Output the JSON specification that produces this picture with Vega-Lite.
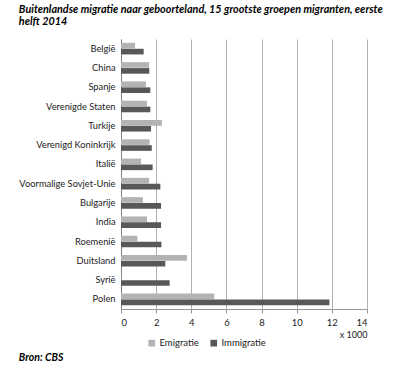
{
  "$schema": "https://vega.github.io/schema/vega-lite/v6.json",
  "padding": {"left": 18, "top": 4, "right": 5, "bottom": 5},
  "background": "white",
  "title": {
    "text": ["Buitenlandse migratie naar geboorteland, 15 grootste groepen migranten, eerste", "helft 2014"],
    "anchor": "start",
    "font": "Lato",
    "fontSize": 10.8,
    "fontStyle": "italic",
    "fontWeight": "bold",
    "lineHeight": 12,
    "color": "#000000",
    "offset": 12
  },
  "data": {
    "values": [
      {"land": "België", "type": "Emigratie", "waarde": 0.80},
      {"land": "België", "type": "Immigratie", "waarde": 1.29},
      {"land": "China", "type": "Emigratie", "waarde": 1.60},
      {"land": "China", "type": "Immigratie", "waarde": 1.61},
      {"land": "Spanje", "type": "Emigratie", "waarde": 1.42},
      {"land": "Spanje", "type": "Immigratie", "waarde": 1.67},
      {"land": "Verenigde Staten", "type": "Emigratie", "waarde": 1.48},
      {"land": "Verenigde Staten", "type": "Immigratie", "waarde": 1.67},
      {"land": "Turkije", "type": "Emigratie", "waarde": 2.33},
      {"land": "Turkije", "type": "Immigratie", "waarde": 1.71},
      {"land": "Verenigd Koninkrijk", "type": "Emigratie", "waarde": 1.63},
      {"land": "Verenigd Koninkrijk", "type": "Immigratie", "waarde": 1.75},
      {"land": "Italië", "type": "Emigratie", "waarde": 1.14},
      {"land": "Italië", "type": "Immigratie", "waarde": 1.80},
      {"land": "Voormalige Sovjet-Unie", "type": "Emigratie", "waarde": 1.60},
      {"land": "Voormalige Sovjet-Unie", "type": "Immigratie", "waarde": 2.24},
      {"land": "Bulgarije", "type": "Emigratie", "waarde": 1.25},
      {"land": "Bulgarije", "type": "Immigratie", "waarde": 2.28},
      {"land": "India", "type": "Emigratie", "waarde": 1.48},
      {"land": "India", "type": "Immigratie", "waarde": 2.28},
      {"land": "Roemenië", "type": "Emigratie", "waarde": 0.93},
      {"land": "Roemenië", "type": "Immigratie", "waarde": 2.30},
      {"land": "Duitsland", "type": "Emigratie", "waarde": 3.76},
      {"land": "Duitsland", "type": "Immigratie", "waarde": 2.52},
      {"land": "Syrië", "type": "Emigratie", "waarde": 0.02},
      {"land": "Syrië", "type": "Immigratie", "waarde": 2.77},
      {"land": "Polen", "type": "Emigratie", "waarde": 5.31},
      {"land": "Polen", "type": "Immigratie", "waarde": 11.86}
    ]
  },
  "vconcat": [
    {
      "width": 246,
      "height": 270,
      "title": {
        "text": "Bron: CBS",
        "orient": "bottom",
        "anchor": "start",
        "font": "Lato",
        "fontSize": 10.5,
        "fontStyle": "italic",
        "fontWeight": "bold",
        "color": "#000000",
        "offset": 13
      },
      "mark": {"type": "bar"},
      "encoding": {
        "y": {
          "field": "land",
          "type": "nominal",
          "sort": null,
          "scale": {"paddingInner": 0.4, "paddingOuter": 0.2},
          "axis": {
            "title": null,
            "ticks": false,
            "labelPadding": 6,
            "labelFont": "Lato",
            "labelFontSize": 9.3,
            "labelColor": "#222222",
            "domainColor": "#808080",
            "grid": false
          }
        },
        "yOffset": {
          "field": "type",
          "type": "nominal",
          "sort": ["Emigratie", "Immigratie"],
          "scale": {"paddingInner": 0.05}
        },
        "x": {
          "field": "waarde",
          "type": "quantitative",
          "scale": {"domain": [0, 14], "nice": false},
          "axis": {
            "values": [0, 2, 4, 6, 8, 10, 12, 14],
            "title": "x 1000",
            "titleAnchor": "end",
            "titleAlign": "right",
            "titleFont": "Lato",
            "titleFontSize": 9,
            "titleFontWeight": "normal",
            "titleColor": "#222222",
            "titlePadding": 4,
            "labelFont": "Lato",
            "labelFontSize": 9.5,
            "labelColor": "#222222",
            "labelPadding": 4,
            "tickSize": 4,
            "tickColor": "#999999",
            "domainColor": "#999999",
            "grid": true,
            "gridColor": "#b0b0b0"
          }
        },
        "color": {
          "field": "type",
          "type": "nominal",
          "scale": {"domain": ["Emigratie", "Immigratie"], "range": ["#b3b3b3", "#585858"]},
          "legend": {
            "title": null,
            "orient": "none",
            "direction": "horizontal",
            "legendX": 26,
            "legendY": 299,
            "symbolType": "square",
            "symbolSize": 45,
            "symbolStrokeWidth": 0,
            "labelFont": "Lato",
            "labelFontSize": 9.5,
            "labelColor": "#222222",
            "columnPadding": 10,
            "labelOffset": 3
          }
        }
      }
    }
  ],
  "config": {
    "view": {"stroke": null},
    "axis": {"domainWidth": 1}
  }
}
